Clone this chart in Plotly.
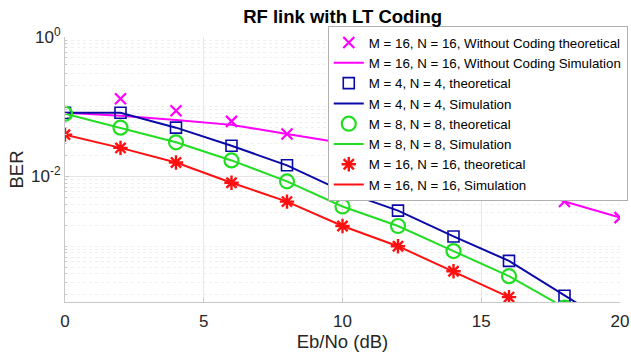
import plotly.graph_objects as go

snr = [0, 2, 4, 6, 8, 10, 12, 14, 16, 18, 20]

# log10(BER) values
unc_theo_x = [2, 4, 6, 8, 10, 12, 14, 16, 18, 20]
unc_theo = [-0.886, -1.057, -1.21, -1.39, -1.52, -1.67, -1.84, -2.05, -2.36, -2.59]
unc_sim = [-1.086, -1.13, -1.19, -1.26, -1.39, -1.52, -1.67, -1.84, -2.05, -2.36, -2.59]

m4_theo = [-1.086, -1.086, -1.30, -1.56, -1.84, -2.21, -2.49, -2.86, -3.21, -3.71, -4.2]
m8_theo = [-1.10, -1.30, -1.51, -1.77, -2.07, -2.43, -2.71, -3.07, -3.43, -3.88, -4.3]
m16_x = [0, 2, 4, 6, 8, 10, 12, 14, 16]
m16_theo = [-1.40, -1.59, -1.80, -2.09, -2.36, -2.71, -3.00, -3.36, -3.73]

labels = [
    "M = 16, N = 16, Without Coding theoretical",
    "M = 16, N = 16, Without Coding Simulation",
    "M = 4, N = 4, theoretical",
    "M = 4, N = 4, Simulation",
    "M = 8, N = 8, theoretical",
    "M = 8, N = 8, Simulation",
    "M = 16, N = 16, theoretical",
    "M = 16, N = 16, Simulation",
]

MAG = "#FF00FF"
BLU = "#0A0AA8"
GRN = "#22DD22"
RED = "#FF1010"


def p(v):
    return [10 ** a for a in v]


fig = go.Figure()
fig.add_trace(go.Scatter(x=unc_theo_x, y=p(unc_theo), mode="markers", name=labels[0],
                         marker=dict(symbol="x-thin", size=11, line=dict(color=MAG, width=2.2), color=MAG)))
fig.add_trace(go.Scatter(x=snr, y=p(unc_sim), mode="lines", name=labels[1],
                         line=dict(color=MAG, width=2)))
fig.add_trace(go.Scatter(x=snr, y=p(m4_theo), mode="markers", name=labels[2],
                         marker=dict(symbol="square-open", size=11, line=dict(color=BLU, width=1.6), color=BLU)))
fig.add_trace(go.Scatter(x=snr, y=p(m4_theo), mode="lines", name=labels[3],
                         line=dict(color=BLU, width=2)))
fig.add_trace(go.Scatter(x=snr, y=p(m8_theo), mode="markers", name=labels[4],
                         marker=dict(symbol="circle-open", size=14, line=dict(color=GRN, width=2.2), color=GRN)))
fig.add_trace(go.Scatter(x=snr, y=p(m8_theo), mode="lines", name=labels[5],
                         line=dict(color=GRN, width=2)))
fig.add_trace(go.Scatter(x=m16_x, y=p(m16_theo), mode="markers", name=labels[6],
                         marker=dict(symbol="asterisk-open", size=12, line=dict(color=RED, width=2.4), color=RED)))
fig.add_trace(go.Scatter(x=m16_x, y=p(m16_theo), mode="lines", name=labels[7],
                         line=dict(color=RED, width=2)))

FONT = "Liberation Sans, Arial, sans-serif"

fig.update_layout(
    width=631, height=354,
    margin=dict(l=65, r=11, t=37, b=52, autoexpand=False),
    paper_bgcolor="white", plot_bgcolor="white",
    font=dict(family=FONT, color="#262626"),
    title=dict(text="<b>RF link with LT Coding</b>", x=0.543, xanchor="center", y=0.952, yanchor="middle",
               font=dict(size=18.5, color="#000000", family=FONT)),
    showlegend=True,
    legend=dict(x=1.014, xanchor="right", y=1.04, yanchor="top",
                bgcolor="white", bordercolor="#B0B0B0", borderwidth=1,
                font=dict(size=13.3, color="#000000", family=FONT),
                itemwidth=30, tracegroupgap=0, maxheight=400),
)

fig.update_xaxes(
    range=[0, 20], tickvals=[0, 5, 10, 15, 20], automargin=False,
    title=dict(text="Eb/No (dB)", font=dict(size=18.5, color="#262626"), standoff=1),
    tickfont=dict(size=17, color="#262626"), ticklabelstandoff=4,
    showgrid=True, gridcolor="#E6E6E6", gridwidth=1,
    showline=True, linecolor="#C8C8C8", linewidth=1,
    ticks="inside", ticklen=4, tickcolor="#C8C8C8",
    zeroline=False,
)
fig.update_yaxes(
    type="log", range=[-3.8, 0], automargin=False,
    tickvals=[1, 0.01], ticktext=["10<sup>0</sup>", "10<sup>-2</sup>"],
    title=dict(text="BER", font=dict(size=18.5, color="#262626"), standoff=2),
    tickfont=dict(size=17, color="#262626"),
    showgrid=True, gridcolor="#E6E6E6", gridwidth=1,
    showline=True, linecolor="#C8C8C8", linewidth=1,
    ticks="inside", ticklen=4, tickcolor="#C8C8C8",
    minor=dict(showgrid=True, gridcolor="#EFEFEF", griddash="dot", dtick="D1",
               ticks="inside", ticklen=2, tickcolor="#C8C8C8"),
    zeroline=False,
)

fig.write_html("out.html")
